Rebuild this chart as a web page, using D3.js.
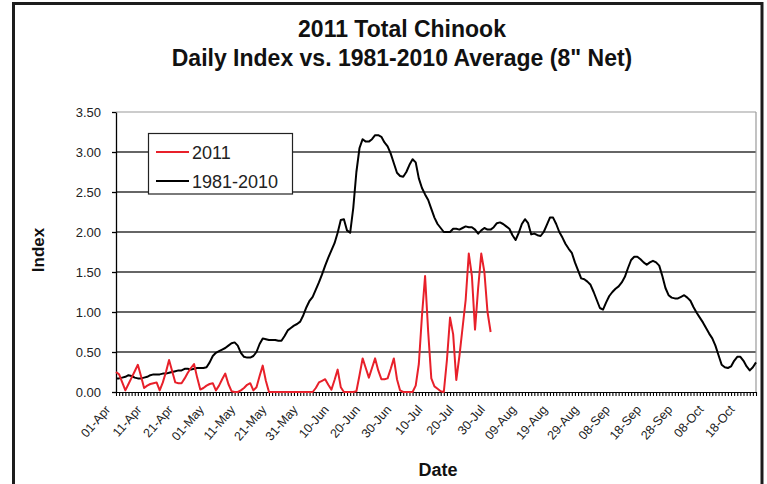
<!DOCTYPE html>
<html>
<head>
<meta charset="utf-8">
<script src="https://cdn.jsdelivr.net/npm/d3@7"></script>
<style>
  html, body { margin: 0; padding: 0; background: #fff; }
  svg { display: block; font-family: "Liberation Sans", Arial, sans-serif; }
</style>
</head>
<body>
<svg id="chart" width="767" height="484"></svg>
<script>
// ---------------- DATA ----------------
const startDate = "2011-04-01";
const seriesNames = ["2011", "1981-2010"];

// 2011 daily index, 01-Apr .. 30-Jul
const values2011 = [
  0.25, 0.22, 0.12, 0.02, 0.10, 0.18, 0.26, 0.34, 0.20, 0.05,
  0.08, 0.10, 0.11, 0.12, 0.02, 0.12, 0.25, 0.40, 0.26, 0.12,
  0.11, 0.11, 0.17, 0.24, 0.30, 0.35, 0.18, 0.03, 0.05, 0.08,
  0.10, 0.11, 0.02, 0.08, 0.16, 0.23, 0.10, 0.01, 0.00, 0.00,
  0.02, 0.05, 0.09, 0.11, 0.02, 0.06, 0.20, 0.33, 0.14, 0.00,
  0.00, 0.00, 0.00, 0.00, 0.00, 0.00, 0.00, 0.00, 0.00, 0.00,
  0.00, 0.00, 0.00, 0.00, 0.05, 0.12, 0.14, 0.16, 0.09, 0.03,
  0.15, 0.28, 0.06, 0.00, 0.00, 0.00, 0.00, 0.01, 0.21, 0.42,
  0.30, 0.18, 0.30, 0.42, 0.27, 0.16, 0.16, 0.17, 0.29, 0.42,
  0.16, 0.02, 0.00, 0.00, 0.00, 0.00, 0.08, 0.35, 0.95, 1.45,
  0.75, 0.17, 0.07, 0.04, 0.01, 0.00, 0.40, 0.93, 0.72, 0.15,
  0.45, 0.80, 1.15, 1.73, 1.45, 0.78, 1.30, 1.73, 1.50, 1.00,
  0.75
];

// 1981-2010 average daily index, 01-Apr .. 23-Oct
const valuesAvg = [
  0.17, 0.17, 0.18, 0.19, 0.21, 0.20, 0.18, 0.17, 0.17, 0.18,
  0.19, 0.21, 0.22, 0.22, 0.22, 0.23, 0.23, 0.24, 0.25, 0.26,
  0.27, 0.27, 0.29, 0.29, 0.28, 0.29, 0.30, 0.30, 0.30, 0.31,
  0.37, 0.45, 0.49, 0.51, 0.53, 0.55, 0.58, 0.61, 0.62, 0.58,
  0.49, 0.44, 0.43, 0.43, 0.45, 0.50, 0.60, 0.67, 0.66, 0.65,
  0.65, 0.65, 0.64, 0.64, 0.70, 0.77, 0.80, 0.83, 0.85, 0.88,
  0.96, 1.06, 1.14, 1.19, 1.28, 1.37, 1.47, 1.58, 1.68, 1.77,
  1.86, 1.99, 2.15, 2.16, 2.02, 1.99, 2.30, 2.75, 3.05, 3.16,
  3.13, 3.13, 3.16, 3.21, 3.21, 3.19, 3.12, 3.07, 2.98, 2.86,
  2.74, 2.70, 2.69, 2.75, 2.84, 2.91, 2.87, 2.67, 2.55, 2.47,
  2.40, 2.29, 2.18, 2.10, 2.05, 2.00, 2.00, 2.00, 2.04, 2.04,
  2.03, 2.05, 2.07, 2.06, 2.06, 2.03, 1.98, 2.02, 2.05, 2.03,
  2.03, 2.06, 2.11, 2.12, 2.10, 2.07, 2.04, 1.96, 1.90, 1.99,
  2.10, 2.16, 2.11, 1.97, 1.98, 1.96, 1.95, 2.00, 2.09, 2.18,
  2.18, 2.10, 2.00, 1.93, 1.85, 1.79, 1.74, 1.62, 1.52, 1.42,
  1.41, 1.38, 1.34, 1.25, 1.15, 1.05, 1.03, 1.12, 1.20, 1.25,
  1.29, 1.32, 1.37, 1.44, 1.55, 1.65, 1.69, 1.69, 1.66, 1.62,
  1.59, 1.62, 1.64, 1.62, 1.58, 1.45, 1.30, 1.21, 1.18, 1.17,
  1.17, 1.19, 1.21, 1.18, 1.14, 1.06, 0.99, 0.93, 0.87, 0.80,
  0.73, 0.67, 0.58, 0.46, 0.34, 0.31, 0.30, 0.32, 0.39, 0.44,
  0.44, 0.39, 0.32, 0.27, 0.31, 0.37
];

const xTickLabels = ["01-Apr","11-Apr","21-Apr","01-May","11-May","21-May","31-May",
  "10-Jun","20-Jun","30-Jun","10-Jul","20-Jul","30-Jul","09-Aug","19-Aug","29-Aug",
  "08-Sep","18-Sep","28-Sep","08-Oct","18-Oct"];
const yTicks = [0, 0.5, 1.0, 1.5, 2.0, 2.5, 3.0, 3.5];

// ---------------- CHART ----------------
const svg = d3.select("#chart");
const parse = d3.utcParse("%Y-%m-%d");
const day0 = parse(startDate);
const dates = d3.range(valuesAvg.length).map(i => d3.utcDay.offset(day0, i));

const pLeft = 116, pRight = 756, pTop = 112, pBottom = 392;
const x = d3.scaleUtc().domain([dates[0], dates[dates.length - 1]]).range([pLeft, pRight]);
const y = d3.scaleLinear().domain([0, 3.5]).range([pBottom, pTop]);

svg.append("rect").attr("width", 767).attr("height", 484).attr("fill", "#fff");

// outer frame
svg.append("rect")
  .attr("x", 13.5).attr("y", 3.5).attr("width", 748.5).attr("height", 520)
  .attr("fill", "none").attr("stroke", "#1c1c1c").attr("stroke-width", 3);

// title
const title = svg.append("text").attr("text-anchor", "middle")
  .attr("font-weight", "bold").attr("font-size", 23).attr("fill", "#111");
title.append("tspan").attr("x", 402).attr("y", 37).text("2011 Total Chinook");
title.append("tspan").attr("x", 402).attr("y", 66).text("Daily Index vs. 1981-2010 Average (8\" Net)");

// gridlines
svg.append("g").selectAll("line").data(yTicks.filter(v => v > 0))
  .join("line")
  .attr("x1", pLeft).attr("x2", pRight)
  .attr("y1", d => y(d)).attr("y2", d => y(d))
  .attr("stroke", d => d === 3.5 ? "#9a9a9a" : "#333")
  .attr("stroke-width", d => d === 3.5 ? 1.2 : 1.3);
// right border of plot area
svg.append("line").attr("x1", pRight).attr("x2", pRight).attr("y1", pTop).attr("y2", pBottom)
  .attr("stroke", "#9a9a9a").attr("stroke-width", 1.2);

// y axis
const yAxis = svg.append("g").attr("transform", `translate(${pLeft},0)`)
  .call(d3.axisLeft(y).tickValues(yTicks).tickSize(4).tickSizeOuter(0)
    .tickPadding(11).tickFormat(d3.format(".2f")));
yAxis.selectAll("text").attr("font-size", 13).attr("fill", "#222")
  .attr("font-family", "'Liberation Sans', Arial, sans-serif");
yAxis.selectAll("line, path").attr("stroke", "#000").attr("stroke-width", 1.3);

// x axis with daily ticks
const xAxis = svg.append("g").attr("transform", `translate(0,${pBottom})`)
  .call(d3.axisBottom(x).ticks(d3.utcDay.every(1)).tickSize(4).tickSizeOuter(0).tickFormat(""));
xAxis.selectAll("line, path").attr("stroke", "#000").attr("stroke-width", 1.1);

// x tick labels (every 10 days)
svg.append("g").selectAll("text").data(xTickLabels).join("text")
  .attr("transform", (d, i) => `translate(${x(d3.utcDay.offset(day0, i * 10)) - 5},${pBottom + 18}) rotate(-49)`)
  .attr("text-anchor", "end").attr("font-size", 12.5).attr("fill", "#222")
  .text(d => d);

// axis titles
svg.append("text").attr("x", 438).attr("y", 476).attr("text-anchor", "middle")
  .attr("font-weight", "bold").attr("font-size", 18).attr("fill", "#111").text("Date");
svg.append("text").attr("transform", "translate(44,250) rotate(-90)").attr("text-anchor", "middle")
  .attr("font-weight", "bold").attr("font-size", 17).attr("fill", "#111").text("Index");

// lines
const line = d3.line().x((d, i) => x(dates[i])).y(d => y(d));
svg.append("path").datum(valuesAvg).attr("d", line)
  .attr("fill", "none").attr("stroke", "#000").attr("stroke-width", 2).attr("stroke-linejoin", "round");
svg.append("path").datum(values2011).attr("d", line)
  .attr("fill", "none").attr("stroke", "#e8202a").attr("stroke-width", 2).attr("stroke-linejoin", "round");

// legend
const lg = svg.append("g");
lg.append("rect").attr("x", 148.5).attr("y", 133.5).attr("width", 144).attr("height", 60.5)
  .attr("fill", "#fff").attr("stroke", "#222").attr("stroke-width", 1.2);
const legendColors = ["#e8202a", "#000"];
seriesNames.forEach((name, i) => {
  const ly = 152 + i * 29;
  lg.append("line").attr("x1", 156).attr("x2", 189).attr("y1", ly).attr("y2", ly)
    .attr("stroke", legendColors[i]).attr("stroke-width", 2);
  lg.append("text").attr("x", 192).attr("y", ly + 6.5).attr("font-size", 18).attr("fill", "#222").text(name);
});
</script>
</body>
</html>
